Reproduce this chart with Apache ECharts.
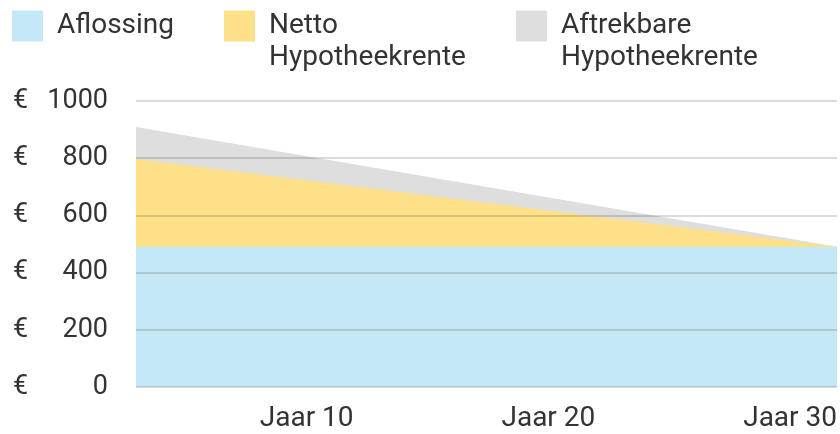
<!DOCTYPE html>
<html>
<head>
<meta charset="utf-8">
<script src="https://cdn.jsdelivr.net/npm/echarts@6/dist/echarts.min.js"></script>
<style>
  html, body { margin: 0; padding: 0; background: #fff; }
  #chart { width: 840px; height: 434px; }
</style>
</head>
<body>
<div id="chart"></div>
<script>
// jaren (begin en eind van de looptijd)
const years = [1, 30]
// maandbedragen per laag
const aflossing = [490, 490]
const netto = [307, 0]
const aftrekbare = [112, 0]
const xLabels = [10, 20, 30]
const yTicks = [0, 200, 400, 600, 800, 1000]

const font = 'Roboto'
const textColor = '#333'

// lagen optellen, zodat elke laag op de vorige ligt
const sumOf = (...layers) => years.map((y, i) => [y, layers.reduce((s, l) => s + l[i], 0)])

const mkSeries = (name, data, color, z) => ({
  name: name,
  type: 'line',
  z: z,
  symbol: 'none',
  lineStyle: { width: 0 },
  itemStyle: { color: color },
  areaStyle: { color: color, opacity: 1 },
  data: data
})

const chart = echarts.init(document.getElementById('chart'))
chart.setOption({
  animation: false,
  textStyle: { fontFamily: font },
  legend: {
    left: 12,
    top: -22,
    padding: 0,
    itemWidth: 31,
    itemHeight: 31,
    itemGap: 50,
    icon: 'rect',
    // tweeregelige namen: lege eerste regel zodat de eerste tekstregel naast het blokje staat
    formatter: (name) => name.indexOf('\n') >= 0 ? '\u00a0\n' + name : name,
    textStyle: { fontFamily: font, fontSize: 28, color: textColor, lineHeight: 32, padding: [0, 0, 0, 9] },
    data: ['Aflossing', 'Netto\nHypotheekrente', 'Aftrekbare\nHypotheekrente']
  },
  grid: { left: 136, right: 0, top: 101, bottom: 47, containLabel: false },
  xAxis: {
    type: 'value',
    min: years[0],
    max: years[years.length - 1],
    axisLine: { show: false },
    axisTick: { show: false },
    splitLine: { show: false },
    axisLabel: {
      customValues: xLabels,
      formatter: (v) => 'Jaar ' + v,
      align: 'right',
      margin: 18,
      fontSize: 28,
      color: textColor
    }
  },
  yAxis: {
    type: 'value',
    min: yTicks[0],
    max: yTicks[yTicks.length - 1],
    interval: 200,
    z: 10,
    axisLine: { show: false },
    axisTick: { show: false },
    splitLine: { lineStyle: { color: 'rgba(0,0,0,0.14)', width: 2 } },
    axisLabel: {
      margin: 28,
      formatter: (v) => '{e|€}{v|' + v + '}',
      rich: {
        e: { width: 30, align: 'left', fontSize: 27, color: textColor, fontFamily: font },
        v: { width: 65, align: 'right', fontSize: 27, color: textColor, fontFamily: font }
      }
    }
  },
  series: [
    mkSeries('Aftrekbare\nHypotheekrente', sumOf(aflossing, netto, aftrekbare), '#dedede', 2),
    mkSeries('Netto\nHypotheekrente', sumOf(aflossing, netto), '#fde087', 3),
    mkSeries('Aflossing', sumOf(aflossing), '#c5e8f7', 4)
  ]
})
</script>
</body>
</html>
